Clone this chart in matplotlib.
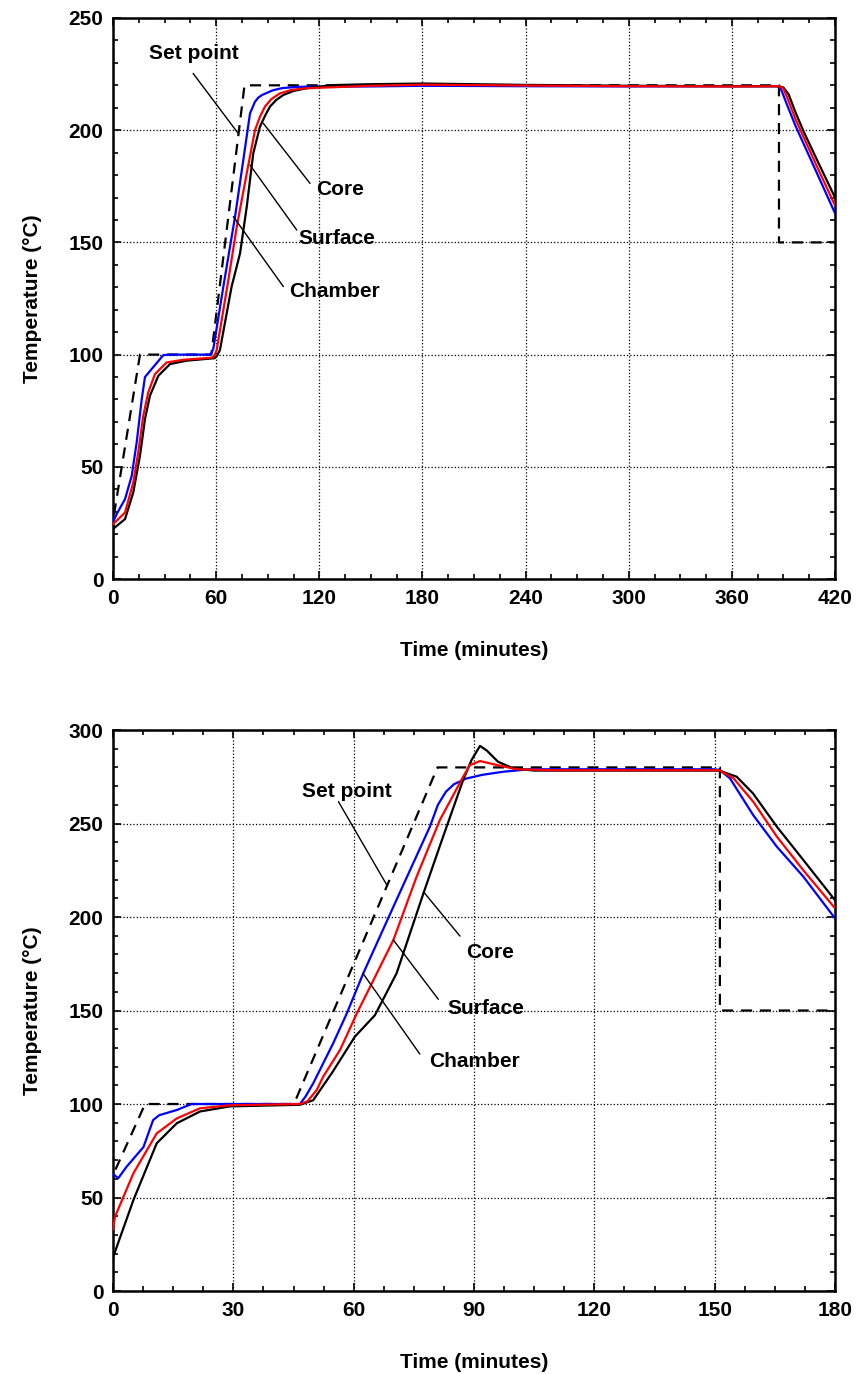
import matplotlib
matplotlib.use('Agg')
import matplotlib.pyplot as plt
from matplotlib.ticker import MultipleLocator

plt.rcParams['font.family'] = ['Liberation Sans', 'DejaVu Sans']
plt.rcParams['font.weight'] = 'bold'
plt.rcParams['font.size'] = 15

# ---- top run: 420 minutes, 220 C plateau ----
top_set_t = [0, 0, 15.7, 57.2, 76.5, 387.4, 387.4, 420]
top_set_T = [12, 26, 100, 100, 220, 220, 150, 150]

top_chamber_t = [0, 2.6, 7, 10.9, 13.8, 16.7, 18.6, 23.4, 29.3, 35, 56.5, 57.5, 58.4, 64.2, 71,
                 75.8, 79.7, 82.6, 84.5, 86.5, 89.4, 93, 98.1, 105, 112.7, 150, 180, 240, 300,
                 360, 386, 387.5, 389, 392, 397, 402, 410, 420]
top_chamber_T = [25.5, 29.6, 35.6, 46, 61, 80, 90, 94.4, 99.8, 100, 100, 101, 102.8, 130.3, 161.5,
                 186.7, 207.5, 212.7, 214.5, 215.6, 216.6, 217.8, 218.7, 219.2, 219.4, 219.5, 219.8,
                 219.6, 219.5, 219.6, 219.6, 219.3, 217.5, 211.5, 202, 193.5, 180, 163]

top_surface_t = [0, 7, 11.8, 14.7, 17.6, 20.5, 24.4, 31.2, 40.9, 57.4, 59, 60.3, 67.1, 72, 77.8,
                 82.6, 85.5, 88.4, 92, 97.1, 104, 112.7, 150, 180, 240, 300, 360, 387.5, 390,
                 392.5, 397, 402, 410, 420]
top_surface_T = [24.4, 29.6, 43, 56.4, 72.7, 83.1, 91.3, 96.5, 97.7, 98.6, 99.5, 102, 133.2, 157,
                 180.8, 200, 206, 210.5, 213.8, 216.4, 218, 218.7, 219.8, 220.3, 219.9, 219.6, 219.5,
                 219.6, 218.5, 214, 205, 196.5, 183, 166.5]

top_core_t = [0, 7, 11.8, 15.7, 18.6, 21.5, 26.4, 33.2, 42.9, 59.1, 60.5, 62.2, 69, 73.9, 77.8,
              81.6, 85.5, 88.5, 91.3, 95, 99.1, 105, 112.7, 128, 150, 180, 240, 300, 360, 387.4,
              390, 393, 397, 402, 410, 420]
top_core_T = [22.3, 26.7, 38.6, 55, 71.3, 81.7, 90.6, 95.8, 97.3, 98.4, 99.5, 102, 130.3, 145.1,
              165.9, 189.7, 201.6, 206.5, 210.5, 213.5, 215.7, 217.5, 218.7, 220.1, 220.5, 220.8,
              220.2, 219.8, 219.6, 219.6, 219, 216, 208, 199, 186, 170]

# label text (x, y), leader line start and end
top_labels = [
    ("Set point", (47.1, 234.3), (46.6, 225.3), (72.8, 198.6)),
    ("Core", (132.1, 173.4), (114.6, 176.3), (87.4, 203.1)),
    ("Surface", (130.3, 151.8), (106.9, 155.5), (79.7, 184.5)),
    ("Chamber", (129.1, 128.0), (99.1, 130.3), (70.0, 161.5)),
]

# ---- bottom run: 180 minutes, 280 C plateau ----
bot_set_t = [0, 0, 8, 45.1, 80.9, 151.3, 151.3, 180]
bot_set_T = [45, 62, 100, 100, 280, 280, 150, 150]

bot_chamber_t = [0, 1.3, 3.4, 7.6, 10, 11.5, 15.9, 19.6, 30, 46.6, 48, 49.9, 54.9, 58.3, 62.4,
                 69.9, 79, 81, 83, 85, 88, 92, 97.3, 103.9, 120, 150, 151.3, 153.8, 159.6,
                 165.5, 172.1, 180]
bot_chamber_T = [62.6, 60.3, 66.5, 77, 91.4, 94, 96.8, 100, 100, 100, 104, 111, 132.5, 148.5,
                 169.9, 205.5, 248.3, 260, 267, 271, 274, 276, 277.7, 279, 279, 279, 278.5,
                 274.2, 254.5, 237.6, 221.6, 199.3]

bot_surface_t = [0, 0.5, 5.1, 10.9, 15.9, 21.7, 29, 46.6, 48.5, 50.8, 52.4, 56.6, 60.8, 63.3, 69.9,
                 75.7, 81.5, 87.3, 89, 91.5, 95.7, 100.6, 110, 150, 151.3, 154.7, 159.6, 165.5,
                 172.1, 180]
bot_surface_T = [33, 39.7, 63, 84.3, 92.3, 97.7, 99.3, 100, 101.5, 107.5, 114.6, 128.9, 148.5, 159.2,
                 187.7, 221.6, 251.9, 275, 281.3, 283.4, 281.3, 279, 278.5, 278.5, 278.3, 274.2,
                 261.7, 243, 225, 204.7]

bot_core_t = [0, 0.5, 5.1, 10.9, 15.9, 21.7, 29, 46.6, 49.9, 54.7, 60.3, 65.3, 70.7, 77.4, 82.3,
              87.3, 89.4, 91.5, 93.2, 96, 99.8, 105, 150, 151.3, 155.5, 159.6, 165.5, 172.1, 180]
bot_core_T = [18, 21, 48.7, 79, 89.7, 96, 98.7, 99.6, 102, 117, 136, 147.5, 169.9, 212.7, 243,
              273.3, 284, 291.5, 289, 283, 279.5, 278.3, 278.3, 278.2, 275, 266, 248.3, 230.5, 209]

bot_labels = [
    ("Set point", (58.4, 267.0), (56.2, 261.7), (68.4, 216.6)),
    ("Core", (94.0, 180.9), (86.5, 189.8), (77.4, 213.5)),
    ("Surface", (92.9, 151.2), (81.1, 156.0), (69.9, 187.7)),
    ("Chamber", (90.0, 122.6), (76.5, 126.7), (62.3, 169.9)),
]


def draw_panel(ax, set_t, set_T, ch_t, ch_T, su_t, su_T, co_t, co_T, labels,
               xmax, ymax, xmajor, xminor):
    ax.plot(set_t, set_T, color='black', lw=1.6, ls=(0, (5, 3.5)), zorder=3)
    ax.plot(ch_t, ch_T, color='#0000ff', lw=1.6, zorder=4)
    ax.plot(co_t, co_T, color='black', lw=1.6, zorder=5)
    ax.plot(su_t, su_T, color='#ff0000', lw=1.6, zorder=6)

    for text, pos, start, end in labels:
        ax.text(pos[0], pos[1], text, ha='center', va='center', fontsize=15,
                fontweight='bold', zorder=7)
        ax.annotate('', xy=end, xytext=start,
                    arrowprops=dict(arrowstyle='-', color='black', lw=1.0,
                                    shrinkA=0, shrinkB=0), zorder=7)

    ax.set_xlim(0, xmax)
    ax.set_ylim(0, ymax)
    ax.xaxis.set_major_locator(MultipleLocator(xmajor))
    ax.xaxis.set_minor_locator(MultipleLocator(xminor))
    ax.yaxis.set_major_locator(MultipleLocator(50))
    ax.yaxis.set_minor_locator(MultipleLocator(10))
    ax.tick_params(which='both', direction='in', top=True, right=True, width=1.2)
    ax.tick_params(which='major', length=6, labelsize=15, pad=7)
    ax.tick_params(which='minor', length=3.5)
    for lab in ax.get_xticklabels() + ax.get_yticklabels():
        lab.set_fontweight('bold')
    ax.grid(True, which='major', color='black', ls=':', lw=0.9)
    for sp in ax.spines.values():
        sp.set_linewidth(1.8)
    ax.set_xlabel('Time (minutes)', fontsize=15, fontweight='bold', labelpad=24)
    ax.set_ylabel('Temperature (°C)', fontsize=15, fontweight='bold', labelpad=19)


fig = plt.figure(figsize=(8.58, 13.74), dpi=100)
ax1 = fig.add_axes([0.1317, 0.5786, 0.8415, 0.4083])
ax2 = fig.add_axes([0.1317, 0.0604, 0.8415, 0.4083])

draw_panel(ax1, top_set_t, top_set_T, top_chamber_t, top_chamber_T,
           top_surface_t, top_surface_T, top_core_t, top_core_T, top_labels,
           420, 250, 60, 15)
draw_panel(ax2, bot_set_t, bot_set_T, bot_chamber_t, bot_chamber_T,
           bot_surface_t, bot_surface_T, bot_core_t, bot_core_T, bot_labels,
           180, 300, 30, 7.5)

fig.savefig('out.png', dpi=100)
